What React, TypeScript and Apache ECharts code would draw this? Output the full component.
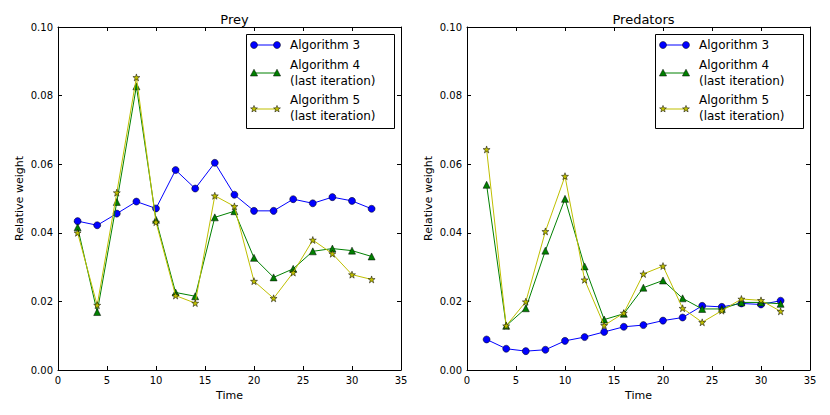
import React, { useEffect, useRef } from "react";
import * as echarts from "echarts";

const times = [2, 4, 6, 8, 10, 12, 14, 16, 18, 20, 22, 24, 26, 28, 30, 32];

const preyAlg3 = [0.0434, 0.0422, 0.0456, 0.0491, 0.0471, 0.0583, 0.0529, 0.0604, 0.0511, 0.0464, 0.0464, 0.0498, 0.0486, 0.0504, 0.0493, 0.047];
const preyAlg4 = [0.0416, 0.0169, 0.049, 0.0827, 0.0438, 0.0226, 0.0215, 0.0445, 0.0463, 0.0327, 0.027, 0.0295, 0.0346, 0.0354, 0.0348, 0.0331];
const preyAlg5 = [0.04, 0.0189, 0.0517, 0.0853, 0.0431, 0.0217, 0.0195, 0.0508, 0.0477, 0.0259, 0.0209, 0.0284, 0.0379, 0.0339, 0.0278, 0.0264];

const predAlg3 = [0.0089, 0.0062, 0.0055, 0.0059, 0.0085, 0.0096, 0.0111, 0.0126, 0.0131, 0.0144, 0.0153, 0.0187, 0.0184, 0.0194, 0.0191, 0.0202];
const predAlg4 = [0.054, 0.0129, 0.018, 0.0348, 0.0499, 0.0302, 0.0147, 0.0164, 0.024, 0.0261, 0.0209, 0.0178, 0.0178, 0.0197, 0.0197, 0.0193];
const predAlg5 = [0.0643, 0.0129, 0.0199, 0.0404, 0.0565, 0.0263, 0.013, 0.0166, 0.028, 0.0303, 0.018, 0.0139, 0.0173, 0.0207, 0.0203, 0.0171];

const panelTitles = ["Prey", "Predators"];
const seriesNames = ["Algorithm 3", "Algorithm 4\n(last iteration)", "Algorithm 5\n(last iteration)"];
const xAxisName = "Time";
const yAxisName = "Relative weight";

const COLORS = ["#0000ff", "#008000", "#bfbf00"];
const FONT = "DejaVu Sans";
const STAR =
  "path://M0,-10 L2.35,-3.24 L9.51,-3.09 L3.8,1.24 L5.88,8.09 L0,4 L-5.88,8.09 L-3.8,1.24 L-9.51,-3.09 L-2.35,-3.24 Z";
const SYMBOLS = ["circle", "triangle", STAR];
const SIZES = [7, 7, 7];

const GRID_LEFTS = [58, 467];
const GRID_TOP = 27;
const GRID_W = 343;
const GRID_H = 343;

function starPoints(cx: number, cy: number, r: number) {
  const pts: number[][] = [];
  for (let i = 0; i < 10; i++) {
    const rr = i % 2 === 0 ? r : r * 0.42;
    const a = -Math.PI / 2 + (i * Math.PI) / 5;
    pts.push([cx + rr * Math.cos(a), cy + rr * Math.sin(a)]);
  }
  return pts;
}

function legendEls(bx: number) {
  const els: any[] = [];
  els.push({
    type: "rect",
    z: 100,
    shape: { x: bx + 0.5, y: 34.5, width: 148, height: 94 },
    style: { fill: "#fff", stroke: "#000", lineWidth: 1 },
  });
  const rowsY = [45, 73, 109];
  const textY = [45, 73, 108];
  for (let k = 0; k < 3; k++) {
    const y = rowsY[k];
    const x1 = bx + 8;
    const x2 = bx + 31;
    els.push({
      type: "line",
      z: 101,
      shape: { x1, y1: y, x2, y2: y },
      style: { stroke: COLORS[k], lineWidth: 1 },
    });
    for (const cx of [x1, x2]) {
      if (k === 0) {
        els.push({
          type: "circle",
          z: 102,
          shape: { cx, cy: y, r: 3.5 },
          style: { fill: COLORS[k], stroke: "#000", lineWidth: 0.5 },
        });
      } else if (k === 1) {
        els.push({
          type: "polygon",
          z: 102,
          shape: { points: [[cx, y - 3.8], [cx + 3.6, y + 3], [cx - 3.6, y + 3]] },
          style: { fill: COLORS[k], stroke: "#000", lineWidth: 0.5 },
        });
      } else {
        els.push({
          type: "polygon",
          z: 102,
          shape: { points: starPoints(cx, y, 3.6) },
          style: { fill: COLORS[k], stroke: "#000", lineWidth: 0.5 },
        });
      }
    }
    els.push({
      type: "text",
      z: 102,
      x: bx + 44,
      y: textY[k],
      style: {
        text: seriesNames[k],
        fill: "#000",
        fontSize: 12,
        fontFamily: FONT,
        lineHeight: 15.5,
        align: "left",
        verticalAlign: "middle",
      },
    });
  }
  return els;
}

export default function App() {
  const ref = useRef<HTMLDivElement>(null);
  useEffect(() => {
    if (!ref.current) return;
    const chart = echarts.init(ref.current, undefined, { renderer: "svg" });
    const panels = [
      [preyAlg3, preyAlg4, preyAlg5],
      [predAlg3, predAlg4, predAlg5],
    ];
    const grids = GRID_LEFTS.map((l) => ({
      left: l,
      top: GRID_TOP,
      width: GRID_W,
      height: GRID_H,
      containLabel: false,
    }));
    const axisLine = { show: true, onZero: false, lineStyle: { color: "#000", width: 1 } };
    const tick = { show: true, inside: true, length: 4, lineStyle: { color: "#000", width: 1 } };
    const labelStyle = { color: "#000", fontSize: 10, fontFamily: FONT };
    const nameStyle = { color: "#000", fontSize: 11, fontFamily: FONT };
    const xAxes: any[] = [];
    const yAxes: any[] = [];
    GRID_LEFTS.forEach((_, g) => {
      xAxes.push({
        gridIndex: g,
        type: "value",
        position: "bottom",
        min: 0,
        max: 35,
        interval: 5,
        axisLine,
        axisTick: tick,
        splitLine: { show: false },
        axisLabel: { ...labelStyle, margin: 5 },
        name: xAxisName,
        nameLocation: "middle",
        nameGap: 19,
        nameTextStyle: nameStyle,
      });
      xAxes.push({
        gridIndex: g,
        type: "value",
        position: "top",
        min: 0,
        max: 35,
        interval: 5,
        axisLine,
        axisTick: tick,
        splitLine: { show: false },
        axisLabel: { show: false },
      });
      yAxes.push({
        gridIndex: g,
        type: "value",
        position: "left",
        min: 0,
        max: 0.1,
        interval: 0.02,
        axisLine,
        axisTick: tick,
        splitLine: { show: false },
        axisLabel: { ...labelStyle, margin: 5, formatter: (v: number) => v.toFixed(2) },
        name: yAxisName,
        nameLocation: "middle",
        nameGap: 33,
        nameTextStyle: nameStyle,
      });
      yAxes.push({
        gridIndex: g,
        type: "value",
        position: "right",
        min: 0,
        max: 0.1,
        interval: 0.02,
        axisLine,
        axisTick: tick,
        splitLine: { show: false },
        axisLabel: { show: false },
      });
    });
    const series: any[] = [];
    panels.forEach((panel, g) => {
      panel.forEach((vals, k) => {
        series.push({
          type: "line",
          name: seriesNames[k],
          xAxisIndex: g * 2,
          yAxisIndex: g * 2,
          data: times.map((t, i) => [t, vals[i]]),
          symbol: SYMBOLS[k],
          symbolSize: SIZES[k],
          showAllSymbol: true,
          lineStyle: { color: COLORS[k], width: 1 },
          itemStyle: { color: COLORS[k], borderColor: "#000", borderWidth: 0.5 },
          emphasis: { disabled: true },
          z: 2 + k,
        });
      });
    });
    chart.setOption({
      animation: false,
      backgroundColor: "#fff",
      title: panelTitles.map((t, g) => ({
        text: t,
        left: GRID_LEFTS[g] + GRID_W / 2,
        top: 8,
        textAlign: "center",
        textStyle: { color: "#000", fontSize: 13, fontWeight: "normal", fontFamily: FONT },
      })),
      grid: grids,
      xAxis: xAxes,
      yAxis: yAxes,
      series,
      graphic: [...legendEls(246), ...legendEls(655)],
    });
    return () => chart.dispose();
  }, []);
  return (
    <div
      ref={ref}
      style={{ position: "absolute", left: 0, top: 0, width: 830, height: 415 }}
    />
  );
}
